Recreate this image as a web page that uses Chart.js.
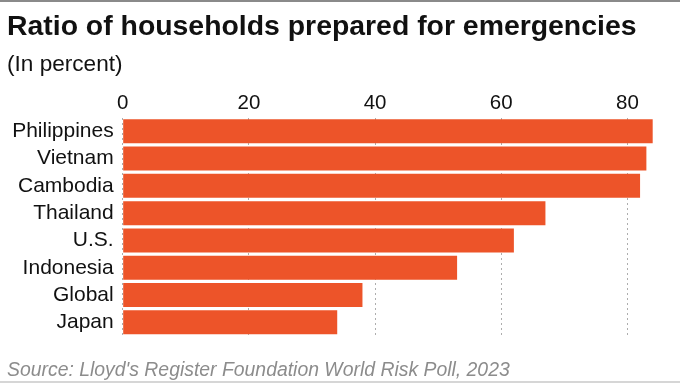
<!DOCTYPE html>
<html>
<head>
<meta charset="utf-8">
<script src="https://cdn.jsdelivr.net/npm/chart.js@4"></script>
<style>
  html, body { margin: 0; padding: 0; background: #fff; }
  #wrap { position: relative; width: 680px; height: 383px; }
</style>
</head>
<body>
<div id="wrap"><canvas id="c" width="680" height="383"></canvas></div>
<script>
const titleText = 'Ratio of households prepared for emergencies';
const subtitleText = '(In percent)';
const sourceText = "Source: Lloyd's Register Foundation World Risk Poll, 2023";
const categories = ['Philippines', 'Vietnam', 'Cambodia', 'Thailand', 'U.S.', 'Indonesia', 'Global', 'Japan'];
const values = [84, 83, 82, 67, 62, 53, 38, 34];
const tickValues = [0, 20, 40, 60, 80];
const axisMax = 85;

const FONT = '"Liberation Sans", Arial, Helvetica, sans-serif';

const decor = {
  id: 'decor',
  beforeDraw(chart) {
    const ctx = chart.ctx;
    ctx.save();
    ctx.fillStyle = '#ffffff';
    ctx.fillRect(0, 0, chart.width, chart.height);
    ctx.fillStyle = '#8a8a8a';
    ctx.fillRect(0, 0, chart.width, 2);
    ctx.fillStyle = '#d6d6d6';
    ctx.fillRect(0, 381, chart.width, 2);
    ctx.textBaseline = 'alphabetic';
    ctx.textAlign = 'left';
    ctx.fillStyle = '#111111';
    ctx.font = 'bold 28.4px ' + FONT;
    ctx.fillText(titleText, 7, 35);
    ctx.font = '22.6px ' + FONT;
    ctx.fillText(subtitleText, 7, 71);
    ctx.fillStyle = '#8c8c8c';
    ctx.font = 'italic 19.4px ' + FONT;
    ctx.fillText(sourceText, 7, 376);
    ctx.restore();
  }
};

new Chart(document.getElementById('c'), {
  type: 'bar',
  data: {
    labels: categories,
    datasets: [{
      data: values,
      backgroundColor: '#ED5429',
      borderWidth: 0,
      barPercentage: 0.88,
      categoryPercentage: 1.0
    }]
  },
  plugins: [decor],
  options: {
    indexAxis: 'y',
    responsive: false,
    animation: false,
    devicePixelRatio: 1,
    layout: { padding: { left: 0, right: 21, top: 87.6, bottom: 47 } },
    plugins: {
      legend: { display: false },
      title: { display: false },
      tooltip: { enabled: false }
    },
    scales: {
      x: {
        position: 'top',
        min: 0,
        max: axisMax,
        z: 1,
        afterBuildTicks(scale) { scale.ticks = tickValues.map(v => ({ value: v })); },
        afterFit(scale) { scale.height = 30; },
        grid: { drawTicks: false, color: 'rgba(0,0,0,0.32)', lineWidth: 1 },
        border: { display: false, dash: [2, 3] },
        ticks: { padding: 2, color: '#111', autoSkip: false, maxRotation: 0, font: { family: FONT, size: 20.5 } }
      },
      y: {
        afterFit(scale) { scale.width = 122.7; },
        grid: { display: false, drawTicks: false },
        border: { display: false },
        ticks: { padding: 9, color: '#111', autoSkip: false, font: { family: FONT, size: 21 } }
      }
    }
  }
});
</script>
</body>
</html>
